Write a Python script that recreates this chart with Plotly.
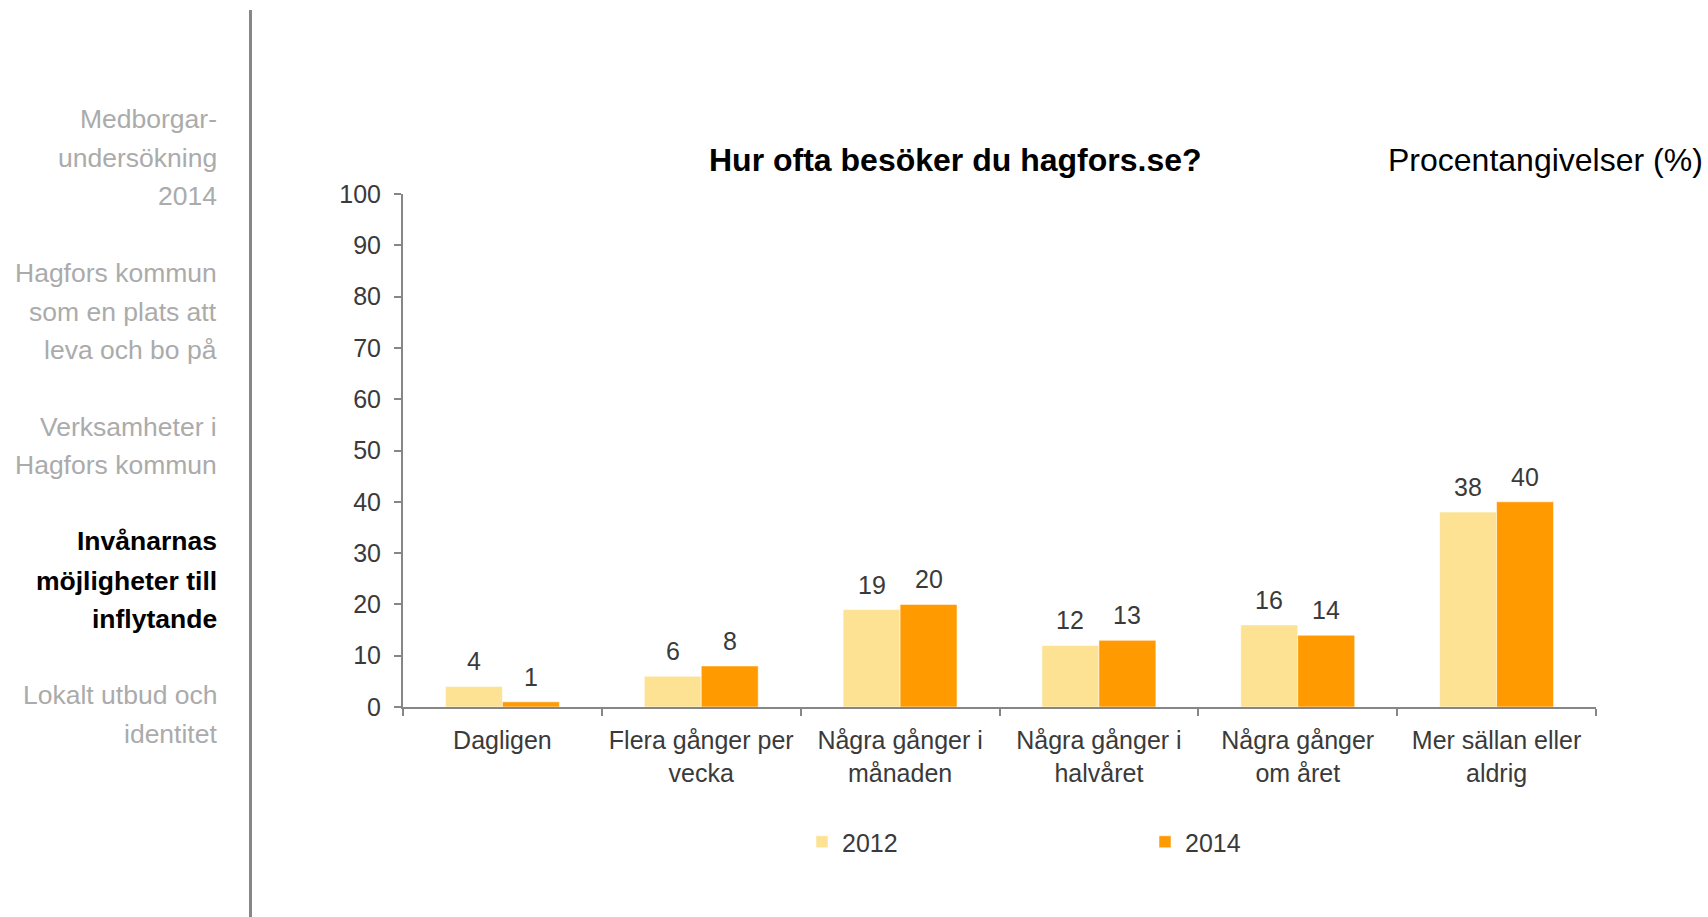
import plotly.graph_objects as go

# Survey answers: how often respondents visit hagfors.se (percent)
categories = [
    "Dagligen",
    "Flera gånger per<br>vecka",
    "Några gånger i<br>månaden",
    "Några gånger i<br>halvåret",
    "Några gånger<br>om året",
    "Mer sällan eller<br>aldrig",
]
values_2012 = [4, 6, 19, 12, 16, 38]
values_2014 = [1, 8, 20, 13, 14, 40]
series_names = ["2012", "2014"]
y_ticks = [0, 10, 20, 30, 40, 50, 60, 70, 80, 90, 100]

# Sidebar navigation: (lines, highlighted)
sidebar_sections = [
    (["Medborgar-", "undersökning", "2014"], False),
    (["Hagfors kommun", "som en plats att", "leva och bo på"], False),
    (["Verksamheter i", "Hagfors kommun"], False),
    (["Invånarnas", "möjligheter till", "inflytande"], True),
    (["Lokalt utbud och", "identitet"], False),
]
sidebar_line_y = [119, 158, 196, 273, 312, 350, 427, 465, 541, 581, 619, 695, 734]

FONT = "Arial, Liberation Sans, sans-serif"
TEXT = "#3a3a3a"
AXIS = "#868686"
COLORS = ["#FDE294", "#FF9A00"]

W, H = 1708, 917
L, R, T, B = 403, 112, 194, 210
plot_w = W - L - R
plot_h = H - T - B


def px_to_paper_x(px):
    return (px - L) / plot_w


def px_to_paper_y(py):
    return (H - B - py) / plot_h


fig = go.Figure()
for name, vals, color in zip(series_names, [values_2012, values_2014], COLORS):
    fig.add_trace(go.Bar(
        name=name,
        x=categories,
        y=vals,
        marker=dict(color=color, line=dict(color="rgba(255,255,255,0.55)", width=1)),
        hoverinfo="skip",
    ))

BARGAP = 0.427
n_series = 2
cat_px = plot_w / len(categories)
bar_px = cat_px * (1 - BARGAP) / n_series

annotations = []
# value labels above each bar
for i, vals in enumerate([values_2012, values_2014]):
    shift = (i - (n_series - 1) / 2) * bar_px
    for cat, v in zip(categories, vals):
        annotations.append(dict(
            x=cat, y=v, xref="x", yref="y", text=str(v),
            xshift=shift, yshift=9, yanchor="bottom", xanchor="center",
            showarrow=False, font=dict(family=FONT, size=25, color=TEXT),
        ))

annotations.append(dict(
    x=px_to_paper_x(955), y=px_to_paper_y(160), xref="paper", yref="paper",
    text="<b>Hur ofta besöker du hagfors.se?</b>", showarrow=False,
    xanchor="center", yanchor="middle",
    font=dict(family=FONT, size=32, color="#000000"),
))
annotations.append(dict(
    x=px_to_paper_x(1705), y=px_to_paper_y(160), xref="paper", yref="paper",
    text="Procentangivelser (%)", showarrow=False,
    xanchor="right", yanchor="middle",
    font=dict(family=FONT, size=32, color="#000000"),
))

k = 0
for lines, active in sidebar_sections:
    for line in lines:
        annotations.append(dict(
            x=px_to_paper_x(219), y=px_to_paper_y(sidebar_line_y[k]),
            xref="paper", yref="paper",
            text=f"<b>{line}</b>" if active else line,
            showarrow=False, xanchor="right", yanchor="middle",
            font=dict(family=FONT, size=26.5, color="#000000" if active else "#ABABAB"),
        ))
        k += 1

fig.update_layout(
    width=W, height=H,
    margin=dict(l=L, r=R, t=T, b=B, pad=0),
    paper_bgcolor="white", plot_bgcolor="white",
    barmode="group", bargap=BARGAP, bargroupgap=0,
    font=dict(family=FONT, size=25, color=TEXT),
    showlegend=True,
    legend=dict(
        orientation="h",
        x=px_to_paper_x(802), y=px_to_paper_y(842),
        xanchor="left", yanchor="middle",
        font=dict(family=FONT, size=25, color=TEXT),
        entrywidth=298, entrywidthmode="pixels",
        bgcolor="rgba(0,0,0,0)", traceorder="normal",
    ),
    annotations=annotations,
    shapes=[dict(
        type="line", xref="paper", yref="paper",
        x0=px_to_paper_x(250.5), x1=px_to_paper_x(250.5),
        y0=px_to_paper_y(10), y1=px_to_paper_y(H + 5),
        line=dict(color="#878787", width=3),
    )],
)

fig.update_xaxes(
    type="category", tickson="boundaries",
    ticks="outside", ticklen=7, tickwidth=2, tickcolor=AXIS,
    showline=True, linecolor=AXIS, linewidth=2,
    showgrid=False, ticklabelstandoff=10,
    tickfont=dict(family=FONT, size=25, color=TEXT),
)
fig.update_yaxes(
    range=[0, 100], tickvals=y_ticks,
    ticks="outside", ticklen=7, tickwidth=2, tickcolor=AXIS,
    showline=True, linecolor=AXIS, linewidth=2,
    showgrid=False, zeroline=False, ticklabelstandoff=8,
    tickfont=dict(family=FONT, size=25, color=TEXT),
)

fig.write_html("out.html")
